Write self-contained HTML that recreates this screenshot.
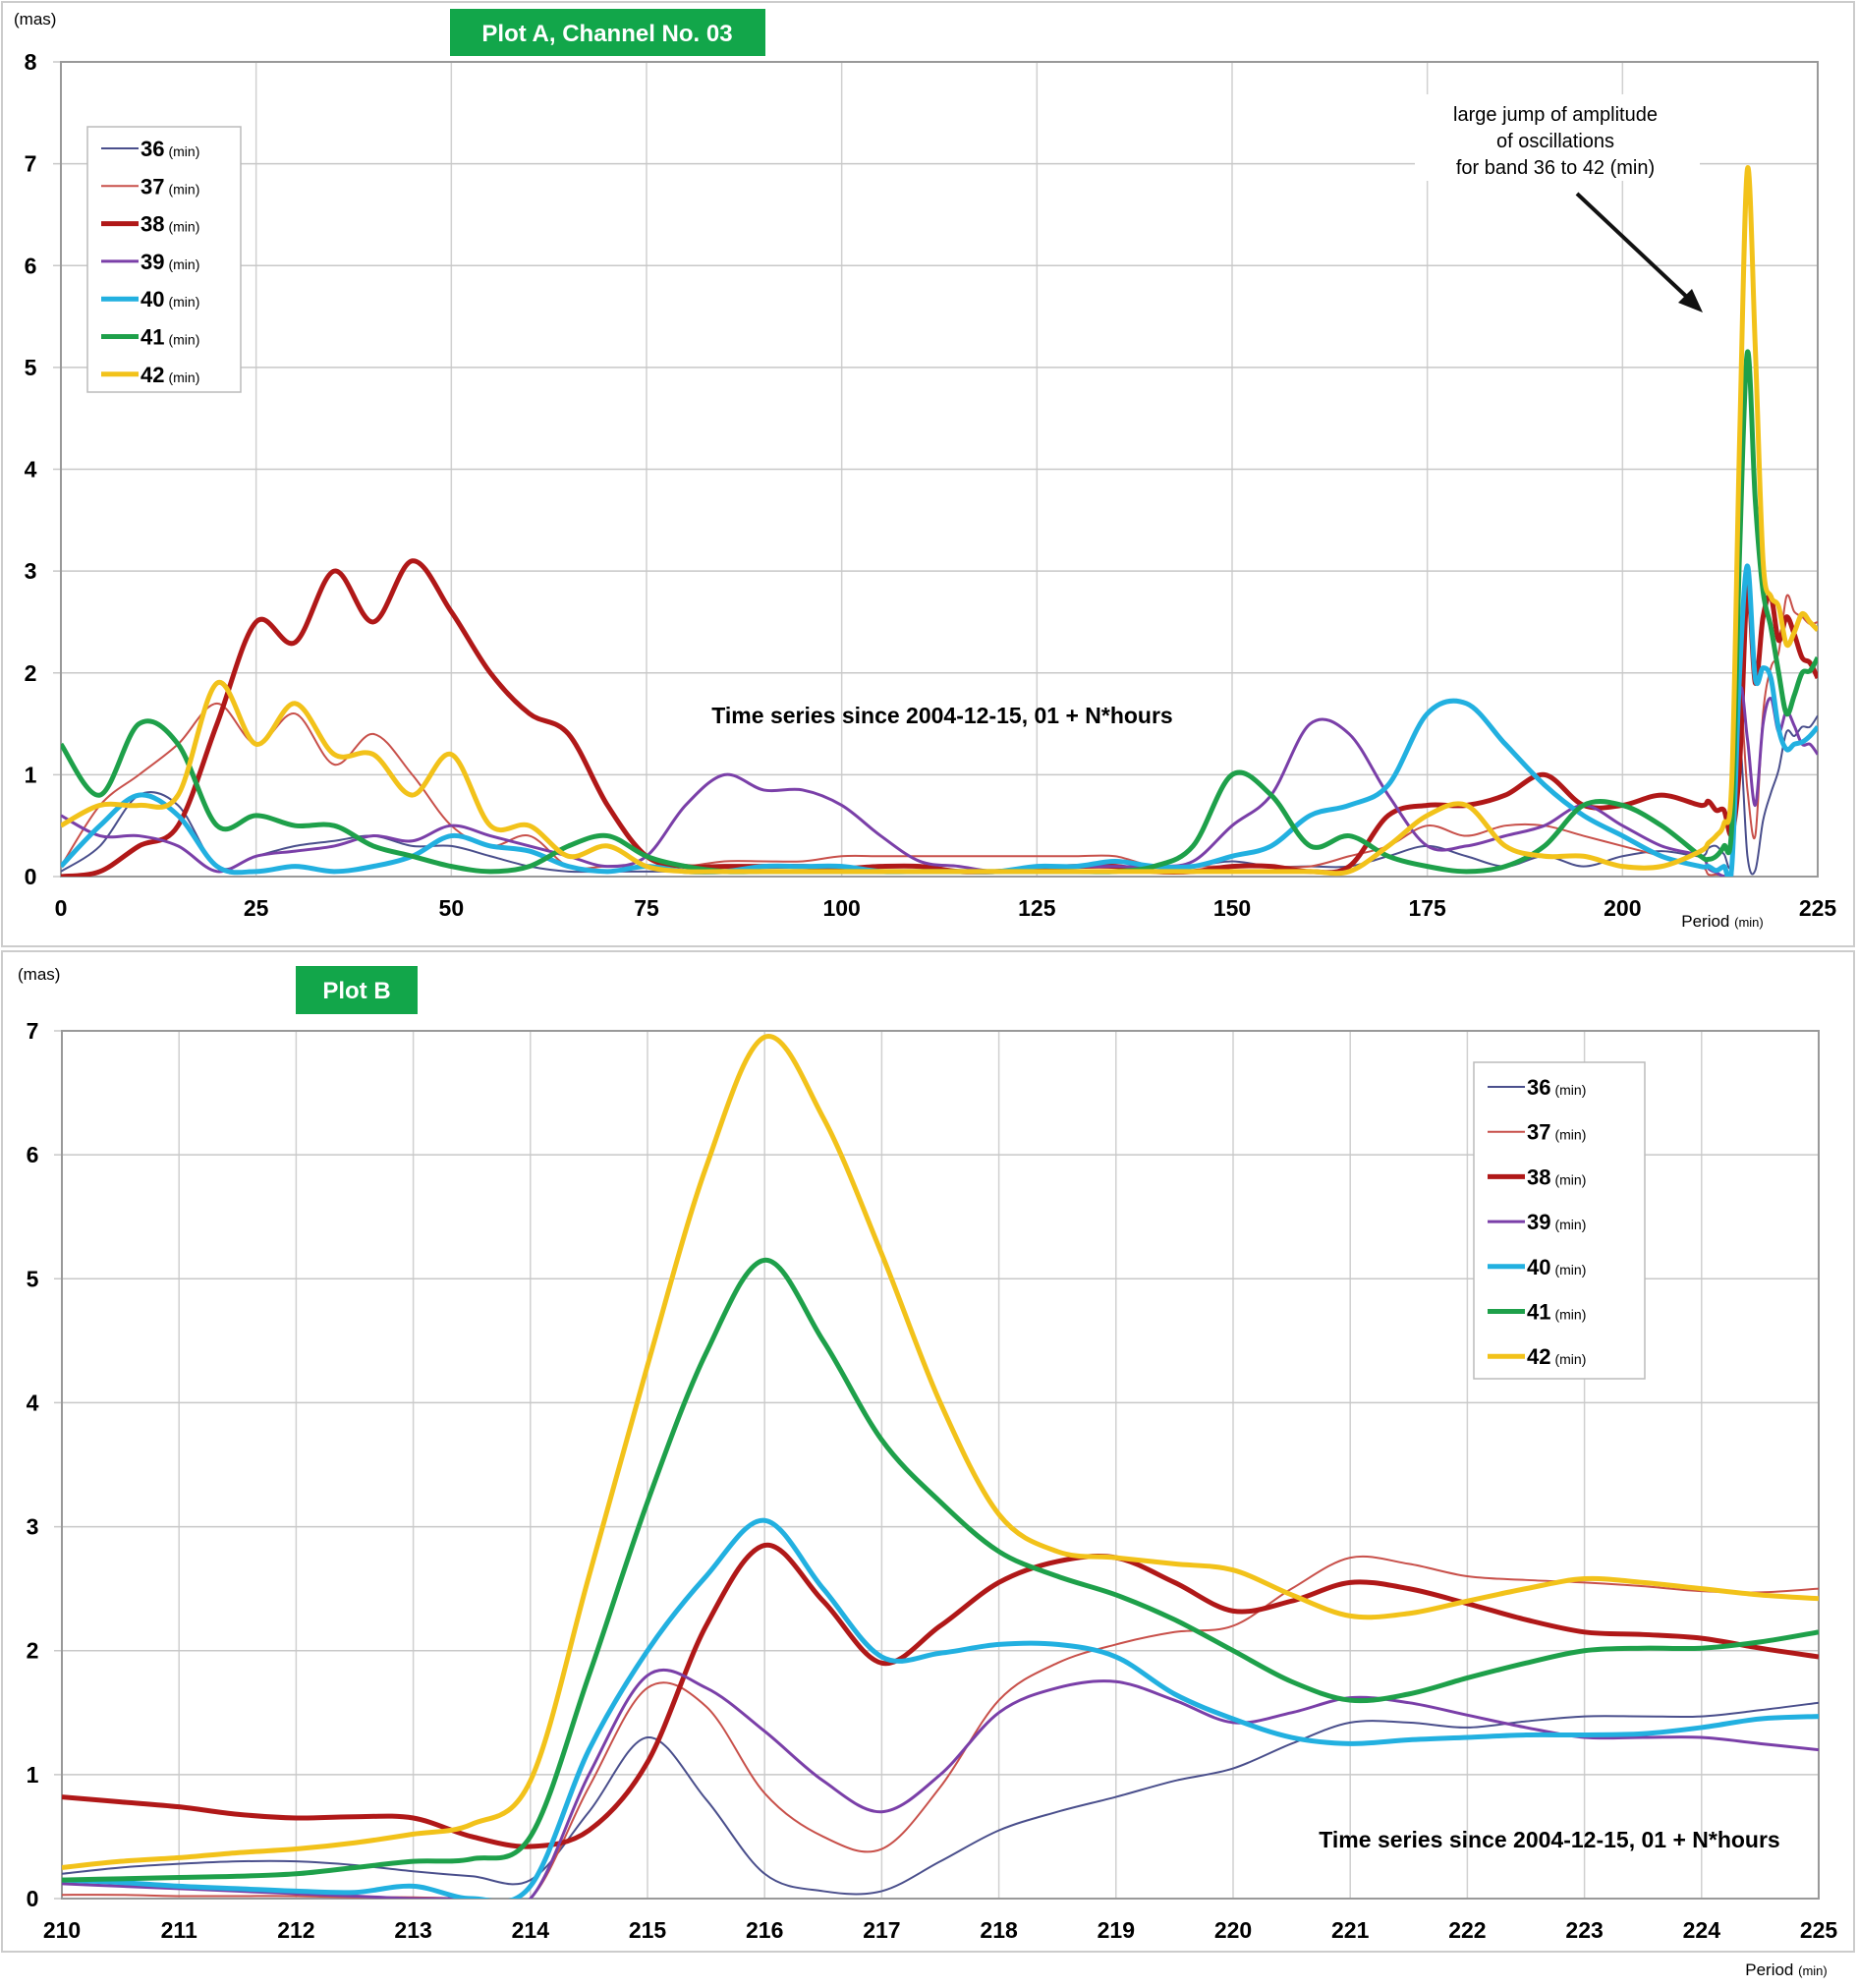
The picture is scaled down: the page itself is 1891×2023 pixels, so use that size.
<!DOCTYPE html>
<html><head><meta charset="utf-8"><style>
html,body{margin:0;padding:0;background:#fff;}
svg text{font-family:"Liberation Sans",sans-serif;}
</style></head><body>
<svg id="c" width="1891" height="2018" xmlns="http://www.w3.org/2000/svg">
<rect x="0" y="0" width="1891" height="2018" fill="#fff"/>
<rect x="2" y="2" width="1885" height="961" fill="none" stroke="#ccc" stroke-width="2"/>
<rect x="2" y="968" width="1885" height="1018" fill="none" stroke="#ccc" stroke-width="2"/>
<g id="gA"></g><g id="gB"></g>
<rect x="458" y="9" width="321" height="48" fill="#12a64a"/>
<text x="618" y="42" font-size="24" font-weight="bold" fill="#fff" text-anchor="middle">Plot A, Channel No. 03</text>
<rect x="301" y="983" width="124" height="49" fill="#12a64a"/>
<text x="363" y="1016" font-size="24" font-weight="bold" fill="#fff" text-anchor="middle">Plot B</text>
<text x="14" y="25" font-size="17">(mas)</text>
<text x="18" y="997" font-size="17">(mas)</text>
<g font-size="20" text-anchor="middle">
<rect x="1440" y="96" width="290" height="88" fill="#fff"/>
<text x="1583" y="123">large jump of amplitude</text>
<text x="1583" y="150">of oscillations</text>
<text x="1583" y="177">for band 36 to 42 (min)</text>
</g>
<line x1="1605" y1="197" x2="1722" y2="307" stroke="#111" stroke-width="4"/>
<polygon points="1733,318 1708,308 1722,294" fill="#111"/>
<text x="959" y="736" font-size="23" font-weight="bold" text-anchor="middle">Time series  since 2004-12-15, 01 + N*hours</text>
<text x="1577" y="1880" font-size="23" font-weight="bold" text-anchor="middle">Time series  since 2004-12-15, 01 + N*hours</text>
<text x="1753" y="943" font-size="17" text-anchor="middle">Period <tspan font-size="13">(min)</tspan></text>
<text x="1818" y="2010" font-size="17" text-anchor="middle">Period <tspan font-size="13">(min)</tspan></text>
</svg>
<script>
var names=['36','37','38','39','40','41','42'];
var colors=['#4a4f8c','#c8504a','#b01818','#7a3fa8','#22b0e0','#1ea04a','#f2c21a'];
var widths=[2,2,5,3,5,5,5];
var xA=[0,5,10,15,20,25,30,35,40,45,50,55,60,65,70,75,80,85,90,95,100,105,110,115,120,125,130,135,140,145,150,155,160,165,170,175,180,185,190,195,200,205,210];
var a36=[0.05,0.3,0.8,0.7,0.1,0.2,0.3,0.35,0.4,0.3,0.3,0.2,0.1,0.05,0.05,0.05,0.05,0.05,0.05,0.05,0.05,0.05,0.05,0.05,0.05,0.05,0.05,0.05,0.05,0.1,0.15,0.1,0.1,0.1,0.2,0.3,0.2,0.1,0.2,0.1,0.2,0.25,0.2];
var a37=[0.1,0.7,1.0,1.3,1.7,1.3,1.6,1.1,1.4,1.0,0.5,0.3,0.4,0.1,0.1,0.1,0.1,0.15,0.15,0.15,0.2,0.2,0.2,0.2,0.2,0.2,0.2,0.2,0.1,0.1,0.1,0.1,0.1,0.2,0.3,0.5,0.4,0.5,0.5,0.4,0.3,0.2,0.1];
var a38=[0,0.05,0.3,0.5,1.5,2.5,2.3,3.0,2.5,3.1,2.6,2.0,1.6,1.4,0.7,0.2,0.1,0.1,0.1,0.1,0.08,0.1,0.1,0.05,0.05,0.08,0.1,0.1,0.05,0.05,0.1,0.1,0.05,0.1,0.6,0.7,0.7,0.8,1.0,0.7,0.7,0.8,0.7];
var a39=[0.6,0.4,0.4,0.3,0.05,0.2,0.25,0.3,0.4,0.35,0.5,0.4,0.3,0.2,0.1,0.2,0.7,1.0,0.85,0.85,0.7,0.4,0.15,0.1,0.05,0.1,0.1,0.1,0.1,0.15,0.5,0.8,1.5,1.4,0.8,0.3,0.3,0.4,0.5,0.7,0.5,0.3,0.2];
var a40=[0.1,0.5,0.8,0.6,0.1,0.05,0.1,0.05,0.1,0.2,0.4,0.3,0.25,0.1,0.05,0.1,0.05,0.05,0.1,0.1,0.1,0.05,0.05,0.05,0.05,0.1,0.1,0.15,0.1,0.1,0.2,0.3,0.6,0.7,0.9,1.6,1.7,1.3,0.9,0.6,0.4,0.2,0.1];
var a41=[1.3,0.8,1.5,1.3,0.5,0.6,0.5,0.5,0.3,0.2,0.1,0.05,0.1,0.3,0.4,0.2,0.1,0.05,0.05,0.05,0.05,0.05,0.05,0.05,0.05,0.05,0.05,0.05,0.1,0.3,1.0,0.8,0.3,0.4,0.2,0.1,0.05,0.1,0.3,0.7,0.7,0.5,0.2];
var a42=[0.5,0.7,0.7,0.8,1.9,1.3,1.7,1.2,1.2,0.8,1.2,0.5,0.5,0.2,0.3,0.1,0.05,0.05,0.05,0.05,0.05,0.05,0.05,0.05,0.05,0.05,0.05,0.05,0.05,0.05,0.05,0.05,0.05,0.05,0.3,0.6,0.7,0.3,0.2,0.2,0.1,0.1,0.25];
var xB=[210,210.5,211,211.5,212,212.5,213,213.5,214,214.5,215,215.5,216,216.5,217,217.5,218,218.5,219,219.5,220,220.5,221,221.5,222,222.5,223,223.5,224,224.5,225];
var b36=[0.2,0.25,0.28,0.3,0.3,0.27,0.22,0.18,0.15,0.7,1.3,0.8,0.2,0.06,0.06,0.3,0.55,0.7,0.82,0.95,1.05,1.25,1.42,1.42,1.38,1.43,1.47,1.47,1.47,1.52,1.58];
var b37=[0.03,0.03,0.02,0.02,0.02,0.01,0.01,0,0,0.9,1.7,1.55,0.85,0.5,0.4,0.9,1.6,1.9,2.05,2.15,2.2,2.5,2.75,2.7,2.6,2.57,2.55,2.52,2.48,2.47,2.5];
var b38=[0.82,0.78,0.74,0.68,0.65,0.66,0.65,0.5,0.42,0.55,1.1,2.2,2.85,2.4,1.9,2.2,2.55,2.72,2.75,2.55,2.32,2.4,2.55,2.5,2.38,2.25,2.15,2.13,2.1,2.02,1.95];
var b39=[0.12,0.1,0.08,0.06,0.04,0.02,0,0,0,1.0,1.8,1.7,1.35,0.95,0.7,1.0,1.5,1.7,1.75,1.6,1.42,1.5,1.62,1.58,1.48,1.38,1.3,1.3,1.3,1.25,1.2];
var b40=[0.15,0.13,0.1,0.08,0.06,0.05,0.1,0,0.1,1.2,2.0,2.6,3.05,2.5,1.95,1.98,2.05,2.05,1.95,1.65,1.45,1.3,1.25,1.28,1.3,1.32,1.32,1.33,1.38,1.45,1.47];
var b41=[0.15,0.16,0.17,0.18,0.2,0.25,0.3,0.32,0.5,1.8,3.2,4.4,5.15,4.5,3.7,3.2,2.8,2.6,2.45,2.25,2.0,1.75,1.6,1.65,1.78,1.9,2.0,2.02,2.02,2.07,2.15];
var b42=[0.25,0.3,0.33,0.37,0.4,0.45,0.52,0.6,0.95,2.6,4.3,5.9,6.95,6.3,5.2,4.0,3.1,2.8,2.75,2.7,2.65,2.45,2.28,2.3,2.4,2.5,2.58,2.55,2.5,2.45,2.42];
var xTicksA=[0,25,50,75,100,125,150,175,200,225];
var yTicksA=[0,1,2,3,4,5,6,7,8];
var xTicksB=[210,211,212,213,214,215,216,217,218,219,220,221,222,223,224,225];
var yTicksB=[0,1,2,3,4,5,6,7];
var NS='http://www.w3.org/2000/svg';
function mk(t,at,p){var e=document.createElementNS(NS,t);for(var k in at)e.setAttribute(k,at[k]);p.appendChild(e);return e;}
function path(pts){var d='M'+pts[0][0]+','+pts[0][1];for(var i=0;i<pts.length-1;i++){var p0=pts[i-1]||pts[i],p1=pts[i],p2=pts[i+1],p3=pts[i+2]||p2;
d+=' C'+(p1[0]+(p2[0]-p0[0])/6)+','+(p1[1]+(p2[1]-p0[1])/6)+' '+(p2[0]-(p3[0]-p1[0])/6)+','+(p2[1]-(p3[1]-p1[1])/6)+' '+p2[0]+','+p2[1];}return d;}
function plot(g,cfg){
 var sx=function(v){return cfg.x0+(v-cfg.xmin)/(cfg.xmax-cfg.xmin)*(cfg.x1-cfg.x0);};
 var sy=function(v){return cfg.y0-(v-cfg.ymin)/(cfg.ymax-cfg.ymin)*(cfg.y0-cfg.y1);};
 var cid='clip'+cfg.id;var cp=mk('clipPath',{id:cid},g);mk('rect',{x:cfg.x0,y:cfg.y1-10,width:cfg.x1-cfg.x0,height:cfg.y0-cfg.y1+10},cp);
 cfg.xt.forEach(function(t){var l=mk('line',{x1:sx(t),x2:sx(t),y1:cfg.y1,y2:cfg.y0,stroke:'#d0d0d0','stroke-width':1.5},g);
  
  
  var tx=mk('text',{x:sx(t),y:cfg.xly,'font-size':23,'font-weight':'bold','text-anchor':'middle'},g);tx.textContent=t;
  
  });
 cfg.yt.forEach(function(t){var l=mk('line',{x1:cfg.x0-8,x2:cfg.x1,y1:sy(t),y2:sy(t),stroke:'#c8c8c8','stroke-width':1.5},g);
  
  
  var tx=mk('text',{x:cfg.ylx,y:sy(t)+8,'font-size':23,'font-weight':'bold','text-anchor':'middle'},g);tx.textContent=t;
  
  });
 var fr=mk('rect',{x:cfg.x0,y:cfg.y1,width:cfg.x1-cfg.x0,height:cfg.y0-cfg.y1,fill:'none',stroke:'#999','stroke-width':2},g);
 
 
 var sg=mk('g',{'clip-path':'url(#'+cid+')'},g);
 cfg.series.forEach(function(s,i){var pts=[];for(var j=0;j<s.x.length;j++)pts.push([sx(s.x[j]),sy(Math.max(0,s.y[j]))]);
  var p=mk('path',{d:path(pts),fill:'none',stroke:colors[i],'stroke-width':widths[i],'stroke-linejoin':'round'},sg);
  
  });
 var L=cfg.leg;var lg=mk('g',{},g);
 
 
 mk('rect',{x:L.x,y:L.y,width:L.w,height:L.h,fill:'#fff',stroke:'#bbb','stroke-width':1.5},lg);
 names.forEach(function(n,i){var y=L.y+L.top+i*L.step;
  var e=mk('g',{},lg);
  
  
  mk('line',{x1:L.x+14,x2:L.x+52,y1:y,y2:y,stroke:colors[i],'stroke-width':widths[i]},e);
  var t=mk('text',{x:L.x+54,y:y+8,'font-size':22,'font-weight':'bold'},e);t.textContent=n;
  var u=mk('tspan',{'font-size':14,'font-weight':'normal',dx:4},t);u.textContent='(min)';});
}
var aSer=[[a36,b36],[a37,b37],[a38,b38],[a39,b39],[a40,b40],[a41,b41],[a42,b42]].map(function(p){var x=xA.slice(),y=p[0].slice();
 for(var j=0;j<xB.length;j++){if(xB[j]>210&&xB[j]%1===0){x.push(xB[j]);y.push(p[1][j]);}}return {x:x,y:y};});
plot(document.getElementById('gA'),{id:'A',x0:62,x1:1850,y0:892,y1:63,xmin:0,xmax:225,ymin:0,ymax:8,xt:xTicksA,yt:yTicksA,xly:932,ylx:31,series:aSer,
 leg:{x:89,y:129,w:156,h:270,top:22,step:38.3}});
var bSer=[b36,b37,b38,b39,b40,b41,b42].map(function(v){return {x:xB,y:v};});
plot(document.getElementById('gB'),{id:'B',x0:63,x1:1851,y0:1932,y1:1049,xmin:210,xmax:225,ymin:0,ymax:7,xt:xTicksB,yt:yTicksB,xly:1972,ylx:33,series:bSer,
 leg:{x:1500,y:1081,w:174,h:322,top:25,step:45.7}});
</script>
</body></html>
